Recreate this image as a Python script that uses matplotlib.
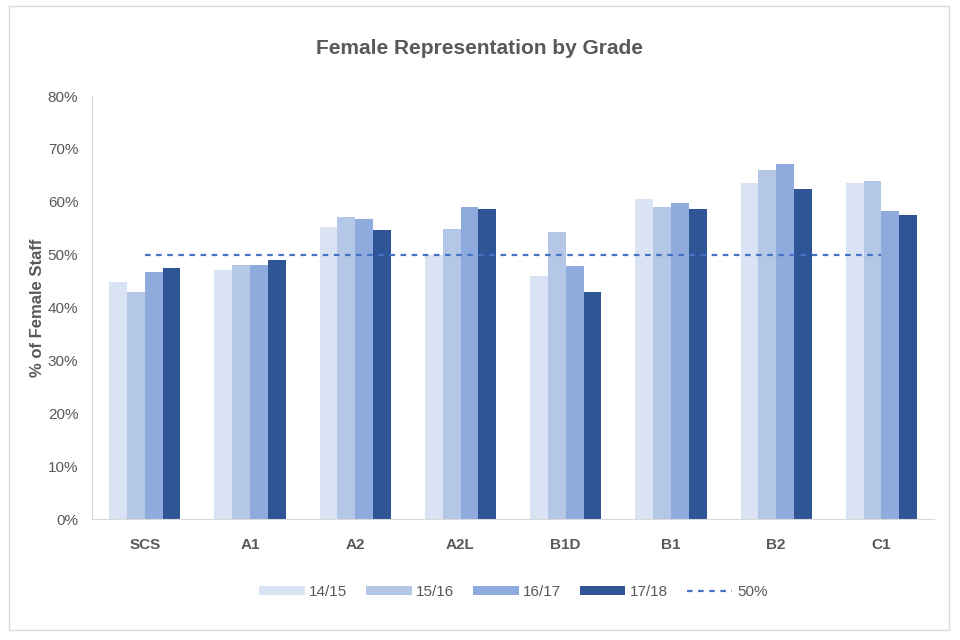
import numpy as np
import matplotlib
matplotlib.use("Agg")
import matplotlib.pyplot as plt
from matplotlib.patches import Rectangle

plt.rcParams['font.family'] = ['Liberation Sans Narrow', 'Liberation Sans', 'DejaVu Sans']

grades = ["SCS", "A1", "A2", "A2L", "B1D", "B1", "B2", "C1"]
years = ["14/15", "15/16", "16/17", "17/18"]
y1415 = [44.9, 47.1, 55.3, 49.9, 46.0, 60.5, 63.5, 63.5]
y1516 = [43.0, 48.1, 57.1, 54.9, 54.2, 59.0, 66.1, 63.9]
y1617 = [46.8, 48.1, 56.8, 59.0, 47.8, 59.7, 67.2, 58.3]
y1718 = [47.5, 49.0, 54.6, 58.6, 43.0, 58.6, 62.4, 57.5]
target = [50] * len(grades)

colors = ["#DAE3F3", "#B4C7E7", "#8FAADC", "#2F5597"]
text_col = "#595959"

fig = plt.figure(figsize=(9.6, 6.4), dpi=100)
ax = fig.add_axes([0.096, 0.189, 0.877, 0.661])

x = np.arange(len(grades))
w = 0.169
handles = []
for i, (vals, col, lab) in enumerate(zip([y1415, y1516, y1617, y1718], colors, years)):
    handles.append(ax.bar(x + (i - 1.5) * w, vals, w, color=col, label=lab))

line, = ax.plot(x, target, linestyle=(0, (2.5, 2.5)), color="#4472C4", lw=1.6, label="50%")
handles.append(line)

ax.set_xlim(-0.5, len(grades) - 0.5)
ax.set_ylim(0, 80)
ax.set_yticks(range(0, 81, 10))
ax.set_yticklabels([f"{v}%" for v in range(0, 81, 10)], fontsize=11, color=text_col)
ax.set_xticks(x)
ax.set_xticklabels(grades, fontsize=11, color=text_col, fontweight="bold")
ax.tick_params(length=0, pad=10)
ax.tick_params(axis='x', pad=14)
for s in ["top", "right"]:
    ax.spines[s].set_visible(False)
ax.spines["left"].set_color("#D9D9D9")
ax.spines["bottom"].set_color("#D9D9D9")

ax.set_ylabel("% of Female Staff", fontsize=12, color=text_col, fontweight="bold",
              family=["Liberation Sans", "DejaVu Sans"], labelpad=2)
fig.text(0.5, 0.925, "Female Representation by Grade", ha="center", va="center",
         fontsize=15, color=text_col, fontweight="bold")

ax.legend(handles=handles, labels=years + ["50%"], loc="center",
          bbox_to_anchor=(0.5, -0.172), ncol=5, frameon=False,
          fontsize=11, labelcolor=text_col, handlelength=3.0, handleheight=0.6,
          columnspacing=1.2, handletextpad=0.3)

fig.patches.append(Rectangle((0.009, 0.016), 0.98, 0.975, transform=fig.transFigure,
                             fill=False, edgecolor="#D9D9D9", lw=1))

fig.savefig("out.png", dpi=100)
